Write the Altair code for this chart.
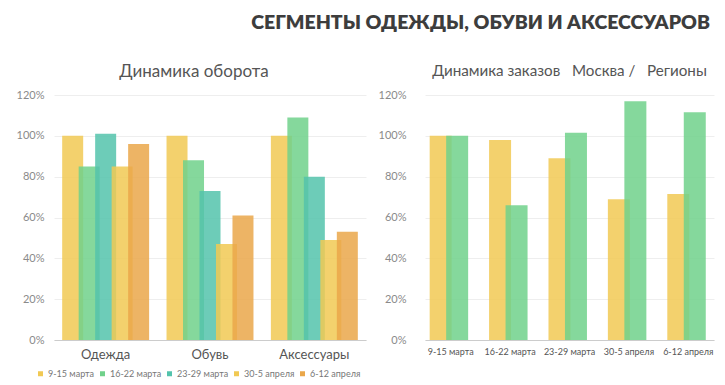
import json
import altair as alt
import pandas as pd

categories = ["Одежда", "Обувь", "Аксессуары"]
periods = ["9-15 марта", "16-22 марта", "23-29 марта", "30-5 апреля", "6-12 апреля"]
turnover = {
    "9-15 марта": [100, 100, 100],
    "16-22 марта": [85, 88, 109],
    "23-29 марта": [101, 73, 80],
    "30-5 апреля": [85, 47, 49],
    "6-12 апреля": [96, 61, 53],
}
moscow = [100, 98, 89, 69, 71.5]
regions = [100, 66, 101.5, 117, 111.5]
series = ["Москва", "Регионы"]

period_colors = ["#F1C953", "#70D18B", "#53C3AC", "#F1C953", "#EAA74A"]
series_colors = ["#F1C953", "#70D18B"]

rows = []
for pi, p in enumerate(periods):
    for ci, c in enumerate(categories):
        rows.append({"ci": ci, "pi": pi, "period": p, "value": turnover[p][ci] / 100})
left_df = pd.DataFrame(rows)

rows2 = []
for si, s in enumerate(series):
    vals = moscow if si == 0 else regions
    for pi, p in enumerate(periods):
        rows2.append({"wi": pi, "si": si, "series": s, "value": vals[pi] / 100})
right_df = pd.DataFrame(rows2)

FONT = "Lato"
cat_expr = json.dumps(categories, ensure_ascii=False) + "[datum.value]"
per_expr = json.dumps(periods, ensure_ascii=False) + "[datum.value]"


def yaxis(pad):
    return alt.Axis(format="%", values=[0, 0.2, 0.4, 0.6, 0.8, 1.0, 1.2], grid=True,
                    gridColor="#eeeeee", domain=False, ticks=False, labelColor="#8a8a8a",
                    labelFontSize=11, labelFont=FONT, title=None, labelPadding=pad)


left = alt.Chart(left_df).mark_bar(width=21, opacity=0.85).encode(
    x=alt.X("ci:O", scale=alt.Scale(paddingInner=0.21, paddingOuter=0.1),
            axis=alt.Axis(title=None, labelAngle=0, labelFontSize=13, labelColor="#555555",
                          labelFont=FONT, ticks=False, domainColor="#cccccc", labelPadding=8,
                          labelExpr=cat_expr)),
    xOffset=alt.XOffset("pi:O", scale=alt.Scale(paddingInner=0, paddingOuter=0)),
    y=alt.Y("value:Q", scale=alt.Scale(domain=[0, 1.2]), axis=yaxis(10)),
    color=alt.Color("period:N",
                    scale=alt.Scale(domain=periods, range=period_colors),
                    legend=alt.Legend(title=None, orient="none", legendX=-18, legendY=274,
                                      direction="horizontal",
                                      symbolType="square", symbolSize=25, labelFontSize=9,
                                      labelColor="#777777", labelFont=FONT, columnPadding=3,
                                      labelOffset=3, symbolOpacity=1)),
).properties(
    width=312, height=245,
    title=alt.TitleParams("Динамика оборота", fontSize=17, fontWeight="normal",
                          color="#555555", font=FONT, offset=8, dx=-16),
)

right = alt.Chart(right_df).mark_bar(width=22, opacity=0.85).encode(
    x=alt.X("wi:O", scale=alt.Scale(paddingInner=0.385, paddingOuter=0.125),
            axis=alt.Axis(title=None, labelAngle=0, labelFontSize=9, labelColor="#555555",
                          labelFont=FONT, ticks=False, domainColor="#cccccc", labelPadding=7,
                          labelExpr=per_expr)),
    xOffset=alt.XOffset("si:O", scale=alt.Scale(paddingInner=0, paddingOuter=0)),
    y=alt.Y("value:Q", scale=alt.Scale(domain=[0, 1.2]), axis=yaxis(19)),
    color=alt.Color("series:N",
                    scale=alt.Scale(domain=series, range=series_colors), legend=None),
).properties(
    width=289, height=245,
    title=alt.TitleParams("Динамика заказов\u00a0\u00a0 Москва /\u00a0\u00a0 Регионы",
                          fontSize=15.2, fontWeight="normal", color="#555555", font=FONT,
                          offset=10),
)

chart = alt.hconcat(left, right, spacing=12).resolve_scale(color="independent").properties(
    title=alt.TitleParams("СЕГМЕНТЫ ОДЕЖДЫ, ОБУВИ И АКСЕССУАРОВ", anchor="end", fontSize=19.5,
                          fontWeight=800, color="#3d3d3d", font=FONT, offset=30, dx=-4),
    padding={"left": 8, "top": 4, "right": 2, "bottom": 0},
).configure_view(stroke=None)

chart.save("out.html", embed_options={"renderer": "svg", "actions": False})
